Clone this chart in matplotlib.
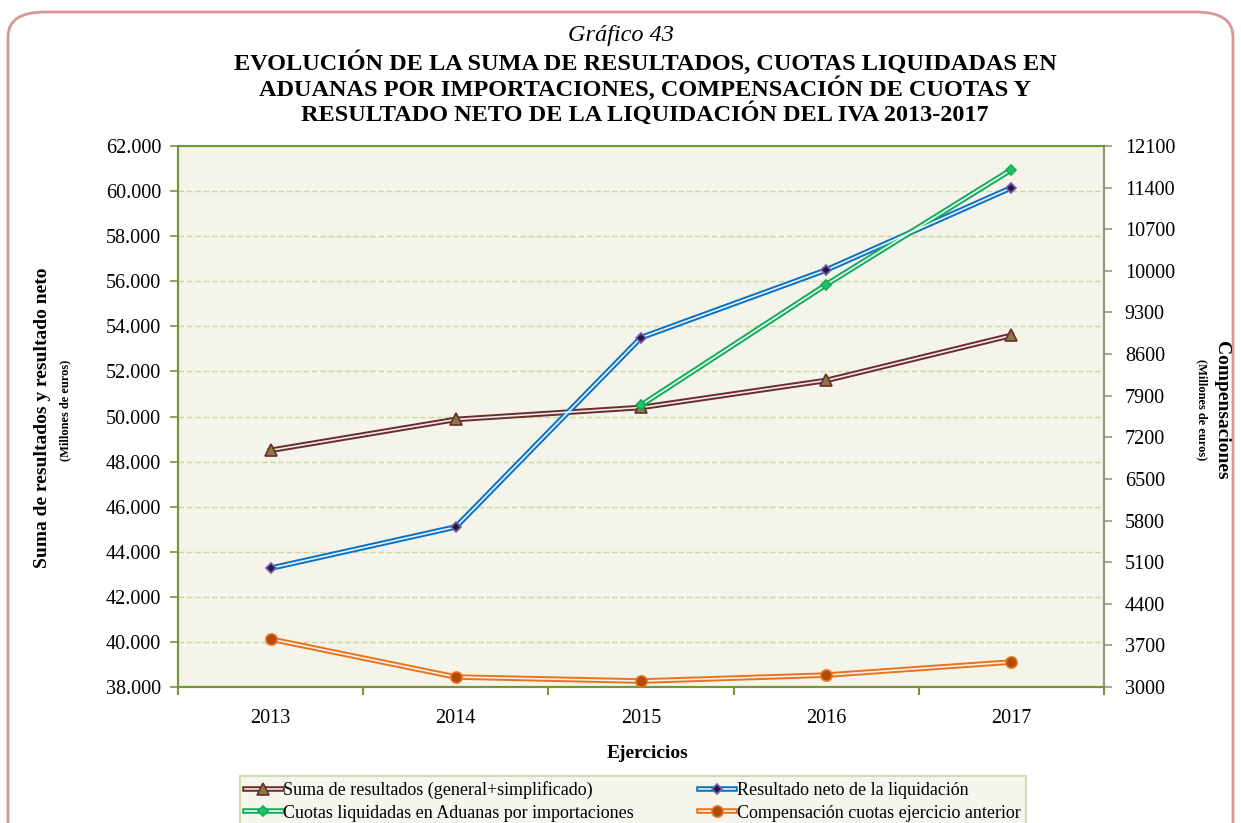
import numpy as np
import matplotlib
matplotlib.use("Agg")
import matplotlib.pyplot as plt
from matplotlib.patches import FancyBboxPatch
from matplotlib.ticker import FuncFormatter, MultipleLocator

# Data (millions of euros)
years = ["2013", "2014", "2015", "2016", "2017"]
suma = [48500, 49870, 50400, 51600, 53600]
neto = [43270, 45100, 53500, 56500, 60150]
aduanas = [None, None, 50500, 55850, 60950]
compensacion = [3806, 3168, 3100, 3200, 3420]

W, H = 1241, 823
fig = plt.figure(figsize=(W / 100, H / 100), dpi=100)
fig.patch.set_facecolor("white")

serif = "Liberation Serif"
bg = "#f4f4eb"

# rounded frame round the whole chart
frame = FancyBboxPatch((8 / W, -0.05), (W - 16) / W, 1.05 - 12 / H,
                       boxstyle="round,pad=0,rounding_size=0.03",
                       transform=fig.transFigure, fill=False,
                       edgecolor="#d99795", linewidth=2, zorder=0)
fig.patches.append(frame)

ax = fig.add_axes([178 / W, 1 - 687 / H, 926 / W, 541 / H])
ax.set_facecolor(bg)
ax2 = ax.twinx()

x = np.arange(len(years))


def double_line(axis, xs, ys, color, marker, mfc, mec, ms):
    xs = [a for a, b in zip(xs, ys) if b is not None]
    ys = [b for b in ys if b is not None]
    l1, = axis.plot(xs, ys, color=color, lw=4.0, solid_joinstyle="miter", zorder=3)
    l2, = axis.plot(xs, ys, color="white", lw=1.2, alpha=0.9, zorder=4)
    l3, = axis.plot(xs, ys, ls="none", marker=marker, mfc=mfc, mec=mec,
                    ms=ms, mew=1.2, zorder=5)
    return (l1, l2, l3)


h_suma = double_line(ax, x, suma, "#6b2c2c", "^", "#8c7a46", "#6b2c2c", 8)
h_neto = double_line(ax, x, neto, "#0a72c4", "D", "#1c1a48", "#8060a8", 5.5)
h_adu = double_line(ax, x, aduanas, "#13ad5a", "D", "#22c46a", "#13ad5a", 5.5)
h_comp = double_line(ax2, x, compensacion, "#e8731c", "o", "#b14b06", "#e8731c", 8)

ax.set_xlim(-0.5, 4.5)
ax.set_ylim(38000, 62000)
ax.yaxis.set_major_locator(MultipleLocator(2000))
ax.yaxis.set_major_formatter(FuncFormatter(lambda v, p: f"{int(v):,}".replace(",", ".")))
ax.grid(axis="y", color="#c6d89c", ls=(0, (4, 2)), lw=1)
ax.set_axisbelow(True)

ax2.set_ylim(3000, 12100)
ax2.set_yticks(np.arange(3000, 12101, 700))

ax.set_xticks(x)
ax.set_xticklabels(years)
ax.set_xticks(np.arange(-0.5, 5, 1), minor=True)
ax.tick_params(axis="x", which="major", length=0, pad=16)
ax.tick_params(axis="x", which="minor", length=6, color="#77933c", width=1.5)

for a in (ax, ax2):
    a.tick_params(axis="y", length=6, width=1.2)
    for lab in a.get_xticklabels() + a.get_yticklabels():
        lab.set_fontfamily(serif)
        lab.set_fontsize(14.5)
ax.tick_params(axis="y", color="#77933c", pad=6)
ax2.tick_params(axis="y", color="#8e9a80", pad=9)

for a in (ax, ax2):
    for s in ("left", "bottom", "top"):
        a.spines[s].set_color("#77933c")
        a.spines[s].set_linewidth(1.5)
    a.spines["right"].set_color("#8e9a80")
    a.spines["right"].set_linewidth(1.5)

# titles
fig.text(0.5, 1 - 35 / H, "Gráfico 43", ha="center", va="center",
         fontfamily=serif, fontstyle="italic", fontsize=17.5)
title = ("EVOLUCIÓN DE LA SUMA DE RESULTADOS, CUOTAS LIQUIDADAS EN\n"
         "ADUANAS POR IMPORTACIONES, COMPENSACIÓN DE CUOTAS Y\n"
         "RESULTADO NETO DE LA LIQUIDACIÓN DEL IVA 2013-2017")
fig.text(645 / W, 1 - 88 / H, title, ha="center", va="center", fontfamily=serif,
         fontweight="bold", fontsize=17.5, linespacing=1.08)

# axis labels
fig.text(43 / W, 1 - 418 / H, "Suma de resultados y resultado neto", rotation=90,
         ha="center", va="center", fontfamily=serif, fontweight="bold", fontsize=14)
fig.text(65 / W, 1 - 410 / H, "(Millones de euros)", rotation=90,
         ha="center", va="center", fontfamily=serif, fontweight="bold", fontsize=9)
fig.text(1222 / W, 1 - 410 / H, "Compensaciones", rotation=270,
         ha="center", va="center", fontfamily=serif, fontweight="bold", fontsize=14)
fig.text(1202 / W, 1 - 410 / H, "(Millones de euros)", rotation=270,
         ha="center", va="center", fontfamily=serif, fontweight="bold", fontsize=9)
fig.text(648 / W, 1 - 753 / H, "Ejercicios", ha="center", va="center",
         fontfamily=serif, fontweight="bold", fontsize=14)

# legend (matplotlib fills column by column)
handles = [h_suma, h_adu, h_neto, h_comp]
labels = ["Suma de resultados (general+simplificado)",
          "Cuotas liquidadas en Aduanas por importaciones",
          "Resultado neto de la liquidación",
          "Compensación cuotas ejercicio anterior"]
leg = fig.legend(handles, labels, loc="upper left", ncol=2,
                 bbox_to_anchor=(240 / W, 1 - 776 / H),
                 prop={"family": serif, "size": 13}, frameon=True,
                 fancybox=False, handlelength=2.0, handletextpad=0.1,
                 columnspacing=3.6, borderpad=0.3, labelspacing=0.3,
                 borderaxespad=0)
leg.get_frame().set_facecolor(bg)
leg.get_frame().set_edgecolor("#c6d89c")
leg.get_frame().set_linewidth(1.5)

fig.savefig("out.png", dpi=100, facecolor="white")
